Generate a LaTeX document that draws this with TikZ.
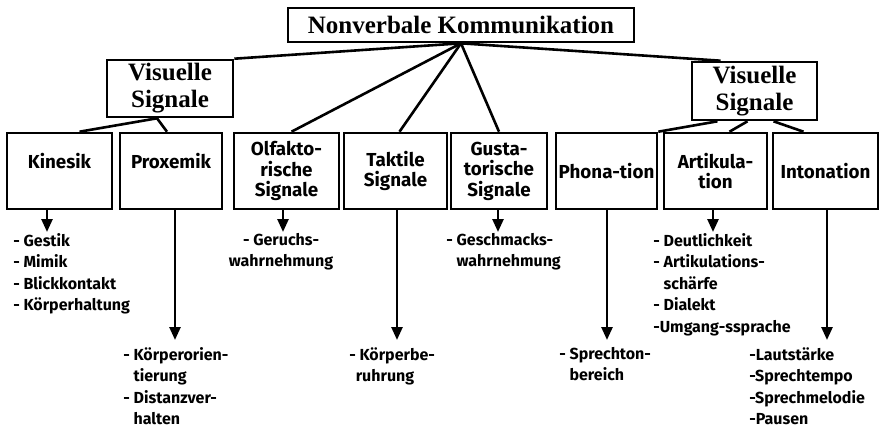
\documentclass[tikz,border=0pt]{standalone}
\usepackage{fontspec}
\setmainfont{Liberation Serif}
\newfontfamily\boxfont{Fira Sans}
\usetikzlibrary{arrows.meta}
\begin{document}
\begin{tikzpicture}[x=1pt,y=-1pt,line width=2.6pt,
    head node/.style={draw,font=\bfseries\fontsize{25}{27}\selectfont,align=center,inner sep=0pt},
    main node/.style={draw,font=\boxfont\bfseries\fontsize{18.8}{20.5}\selectfont,align=center,inner sep=0pt,minimum height=76pt},
    list node/.style={font=\boxfont\bfseries\fontsize{16}{21.5}\selectfont,inner sep=0pt,execute at begin node=\strut},
    down arrow/.style={-{Triangle[length=13pt,width=11pt]}}]
        \useasboundingbox (0,0) rectangle (884,429);

        % top of the tree
        \node[head node,minimum width=346pt,minimum height=34pt] at (461,25) (title) {Nonverbale Kommunikation};
        \node[head node,minimum width=126pt,minimum height=57pt] at (170,88.5) (lvs) {Visuelle\\Signale};
        \node[head node,minimum width=125pt,minimum height=58pt] at (754.5,91) (rvs) {Visuelle\\Signale};

        % row of boxes
        \node[main node,minimum width=105pt] at (59.5,171) (kin) {Kinesik\\\mbox{}};
        \node[main node,minimum width=102pt] at (171,171) (prx) {Proxemik\\\mbox{}};
        \node[main node,minimum width=105pt] at (286.5,171) (olf) {Olfakto-\\rische\\Signale};
        \node[main node,minimum width=103pt] at (395.5,171) (tak) {Taktile\\Signale};
        \node[main node,minimum width=96pt] at (499,171) (gus) {Gusta-\\torische\\Signale};
        \node[main node,minimum width=101pt] at (606.5,171) (pho) {Phona-tion};
        \node[main node,minimum width=103pt] at (715.5,171) (art) {Artikula-\\tion};
        \node[main node,minimum width=105pt] at (825.5,171) (int) {Intonation};

        \path
            (title.south) edge (lvs.north east)
            (title.south) edge ([xshift=5pt]olf.north)
            (title.south) edge ([xshift=4pt]tak.north)
            (title.south) edge (gus.north)
            (title.south) edge ([xshift=-34pt]rvs.north)
            ([xshift=-13pt]lvs.south) edge ([xshift=20pt]kin.north)
            ([xshift=-13pt]lvs.south) edge ([xshift=-4pt]prx.north)
            ([xshift=-37pt]rvs.south) edge (pho.north east)
            ([xshift=-7pt]rvs.south) edge ([xshift=14pt]art.north)
            ([xshift=19pt]rvs.south) edge ([xshift=-22pt]int.north)
            ;

        % arrow ends
        \coordinate (kinend) at (47,232);
        \coordinate (prxend) at (175,340);
        \coordinate (olfend) at (283,232);
        \coordinate (takend) at (397,340);
        \coordinate (gusend) at (498,232);
        \coordinate (phoend) at (607,340);
        \coordinate (artend) at (713,232);
        \coordinate (intend) at (827,340);

        \path[down arrow]
            (kin.south -| kinend) edge (kinend)
            (prx.south -| prxend) edge (prxend)
            (olf.south -| olfend) edge (olfend)
            (tak.south -| takend) edge (takend)
            (gus.south -| gusend) edge (gusend)
            (pho.south -| phoend) edge (phoend)
            (art.south -| artend) edge (artend)
            (int.south -| intend) edge (intend)
            ;

        % lists below the arrows
        \node[list node,anchor=north west,align=left] at (12,232) (kinlist) {- Gestik\\- Mimik\\- Blickkontakt\\- Körperhaltung};
        \node[list node,anchor=north west,align=left] at (122,346) (prxlist) {- Körperorien-\\\hphantom{- }tierung\\- Distanzver-\\\hphantom{- }halten};
        \node[list node,anchor=north,align=center] at (281,232) (olflist) {- Geruchs-\\wahrnehmung};
        \node[list node,anchor=north west,align=left] at (348,346) (taklist) {- Körperbe-\\\hphantom{-}ruhrung};
        \node[list node,anchor=north west,align=left] at (445,232) (guslist) {- Geschmacks-\\\hphantom{- }wahrnehmung};
        \node[list node,anchor=north west,align=left] at (558,346) (pholist) {- Sprechton-\\\hphantom{- }bereich};
        \node[list node,anchor=north west,align=left] at (652,232) (artlist) {- Deutlichkeit\\- Artikulations-\\\hphantom{- }schärfe\\- Dialekt\\-Umgang-ssprache};
        \node[list node,anchor=north west,align=left] at (748,346) (intlist) {-Lautstärke\\-Sprechtempo\\-Sprechmelodie\\-Pausen};
\end{tikzpicture}
\end{document}
